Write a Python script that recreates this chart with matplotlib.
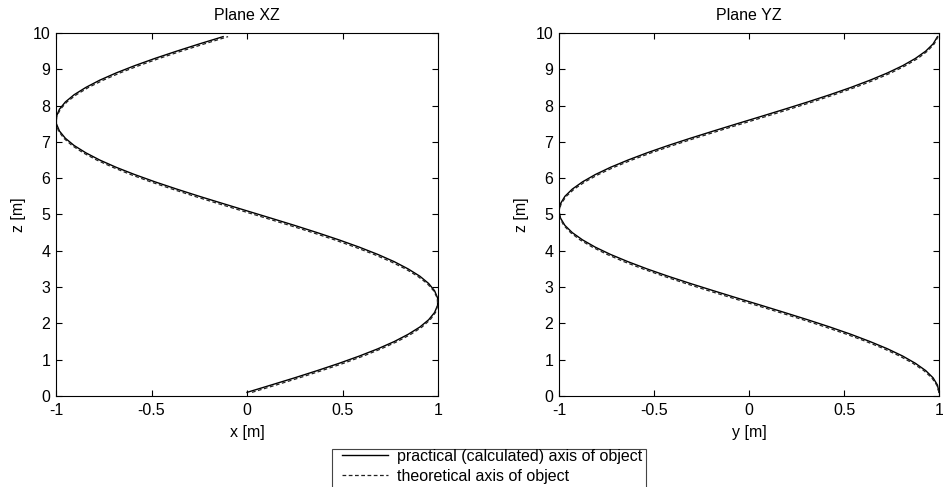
import matplotlib
matplotlib.use("Agg")
import matplotlib.pyplot as plt
from matplotlib.patches import Rectangle

plt.rcParams['font.family'] = ['Liberation Sans', 'DejaVu Sans']
plt.rcParams['font.size'] = 11.5

# height along the object [m]
z = [0.1, 0.3, 0.5, 0.7, 0.9, 1.1, 1.3, 1.5, 1.7, 1.9,
     2.1, 2.3, 2.5, 2.7, 2.9, 3.1, 3.3, 3.5, 3.7, 3.9,
     4.1, 4.3, 4.5, 4.7, 4.9, 5.1, 5.3, 5.5, 5.7, 5.9,
     6.1, 6.3, 6.5, 6.7, 6.9, 7.1, 7.3, 7.5, 7.7, 7.9,
     8.1, 8.3, 8.5, 8.7, 8.9, 9.1, 9.3, 9.5, 9.7, 9.9]

# plane XZ
x_prac = [0.000, 0.125, 0.249, 0.368, 0.482, 0.588, 0.685, 0.771, 0.844, 0.905,
          0.951, 0.982, 0.998, 0.998, 0.982, 0.951, 0.905, 0.844, 0.771, 0.685,
          0.588, 0.482, 0.368, 0.249, 0.125, 0.000, -0.125, -0.249, -0.368, -0.482,
          -0.588, -0.685, -0.771, -0.844, -0.905, -0.951, -0.982, -0.998, -0.998, -0.982,
          -0.951, -0.905, -0.844, -0.771, -0.685, -0.588, -0.482, -0.368, -0.249, -0.125]
x_theo = [0.026, 0.151, 0.274, 0.392, 0.505, 0.609, 0.703, 0.787, 0.858, 0.916,
          0.959, 0.987, 0.999, 0.996, 0.977, 0.943, 0.893, 0.830, 0.753, 0.665,
          0.566, 0.459, 0.344, 0.223, 0.099, -0.026, -0.151, -0.274, -0.392, -0.505,
          -0.609, -0.703, -0.787, -0.858, -0.916, -0.959, -0.987, -0.999, -0.996, -0.977,
          -0.943, -0.893, -0.830, -0.753, -0.665, -0.566, -0.459, -0.344, -0.223, -0.099]

# plane YZ
y_prac = [1.000, 0.992, 0.969, 0.930, 0.876, 0.809, 0.729, 0.637, 0.536, 0.426,
          0.309, 0.187, 0.063, -0.063, -0.187, -0.309, -0.426, -0.536, -0.637, -0.729,
          -0.809, -0.876, -0.930, -0.969, -0.992, -1.000, -0.992, -0.969, -0.930, -0.876,
          -0.809, -0.729, -0.637, -0.536, -0.426, -0.309, -0.187, -0.063, 0.063, 0.187,
          0.309, 0.426, 0.536, 0.637, 0.729, 0.809, 0.876, 0.930, 0.969, 0.992]
y_theo = [1.000, 0.988, 0.962, 0.920, 0.863, 0.793, 0.711, 0.617, 0.514, 0.402,
          0.284, 0.162, 0.037, -0.089, -0.213, -0.334, -0.449, -0.558, -0.658, -0.747,
          -0.824, -0.889, -0.939, -0.975, -0.995, -1.000, -0.988, -0.962, -0.920, -0.863,
          -0.793, -0.711, -0.617, -0.514, -0.402, -0.284, -0.162, -0.037, 0.089, 0.213,
          0.334, 0.449, 0.558, 0.658, 0.747, 0.824, 0.889, 0.939, 0.975, 0.995]

xticks = [-1, -0.5, 0, 0.5, 1]
xticklabels = ['-1', '-0.5', '0', '0.5', '1']
zticks = list(range(0, 11))

W, H = 943, 487
fig = plt.figure(figsize=(W / 100, H / 100), dpi=100)
ax1 = fig.add_axes([56 / W, 1 - 396 / H, 382 / W, 363 / H])
ax2 = fig.add_axes([559 / W, 1 - 396 / H, 380 / W, 363 / H])

panels = [(ax1, x_prac, x_theo, 'Plane XZ', 'x [m]'),
          (ax2, y_prac, y_theo, 'Plane YZ', 'y [m]')]

for ax, prac, theo, title, xlabel in panels:
    l1, = ax.plot(prac, z, color='black', lw=1.0, label='practical (calculated) axis of object')
    l2, = ax.plot(theo, z, color='#222222', lw=0.9, linestyle=(0, (3, 2)),
                  label='theoretical axis of object')
    ax.set_xlim(-1, 1)
    ax.set_ylim(0, 10)
    ax.set_xticks(xticks)
    ax.set_xticklabels(xticklabels)
    ax.set_yticks(zticks)
    ax.tick_params(direction='in', length=4.5, width=0.8, top=True, right=True,
                   labelsize=11.5)
    ax.tick_params(axis='x', pad=5)
    ax.tick_params(axis='y', pad=4)
    for sp in ax.spines.values():
        sp.set_linewidth(0.8)
    ax.set_title(title, fontsize=11.5, pad=9)
    ax.set_xlabel(xlabel, fontsize=11.5, labelpad=5)
    ax.set_ylabel('z [m]', fontsize=11.5, labelpad=5)

# legend box runs off the bottom edge, as in the original
leg = fig.legend(handles=[l1, l2], loc='upper left',
                 bbox_to_anchor=(342 / W, 1 - 449 / H), fontsize=11.5,
                 frameon=False, borderpad=0, labelspacing=0.3, handlelength=2.9,
                 handletextpad=0.55, borderaxespad=0)
fig.patches.append(Rectangle((332 / W, 1 - 510 / H), (646 - 332) / W, (510 - 449) / H,
                             transform=fig.transFigure, fill=False,
                             edgecolor='#444444', linewidth=0.8))

fig.savefig('out.png', dpi=100)
